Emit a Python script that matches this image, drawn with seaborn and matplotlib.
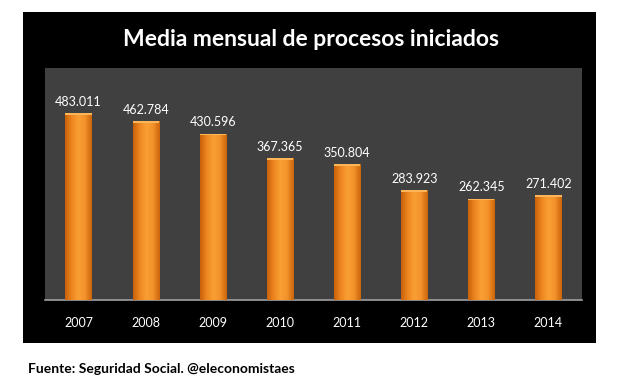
import matplotlib
matplotlib.use("Agg")
import matplotlib.pyplot as plt
import seaborn as sns
import numpy as np
import pandas as pd
from matplotlib.patches import Rectangle
from matplotlib.colors import LinearSegmentedColormap

years = ["2007", "2008", "2009", "2010", "2011", "2012", "2013", "2014"]
values = [483011, 462784, 430596, 367365, 350804, 283923, 262345, 271402]
labels = ["483.011", "462.784", "430.596", "367.365", "350.804", "283.923", "262.345", "271.402"]

sns.set_theme(style="white")
plt.rcParams['font.family'] = ['Lato', 'DejaVu Sans']

fig = plt.figure(figsize=(6.30, 3.89), dpi=100)
fig.patch.set_facecolor("white")
# black panel
fig.add_artist(Rectangle((23/630, 1-343/389), (596-23)/630, (343-12)/389,
                         transform=fig.transFigure, facecolor="black", edgecolor="none", zorder=0))

ax = fig.add_axes([45/630, 1-300/389, (582-45)/630, (300-68)/389])
ax.set_facecolor("#404040")
df = pd.DataFrame({"year": years, "value": values})
sns.barplot(data=df, x="year", y="value", color="#F39125", width=0.39, ax=ax,
            saturation=1, linewidth=0, edgecolor="none")
ax.set_ylim(0, 600000)
ax.set_xlim(-0.5, 7.5)

cmap = LinearSegmentedColormap.from_list("bar", ["#C9620A", "#EE8620", "#F9A035", "#F3922A", "#CC650C"])
grad = np.linspace(0, 1, 64).reshape(1, -1)
for p in ax.patches:
    p.set_linewidth(0)
    x0, w, h = p.get_x(), p.get_width(), p.get_height()
    im = ax.imshow(grad, extent=[x0, x0 + w, 0, h], aspect="auto", cmap=cmap, zorder=3)
    im.set_clip_path(p)
    # lighter cap
    ax.add_patch(Rectangle((x0, h - 5000), w, 5000, facecolor="#FDB55A", edgecolor="none", zorder=4))
ax.set_xlim(-0.5, 7.5)
ax.set_ylim(0, 600000)

for i, (v, lab) in enumerate(zip(values, labels)):
    ax.text(i, v + 14000, lab, ha="center", va="bottom", color="white", fontsize=9)

for s in ["top", "right", "left"]:
    ax.spines[s].set_visible(False)
ax.spines["bottom"].set_color("#A0A0A0")
ax.spines["bottom"].set_linewidth(1.2)
ax.set_yticks([])
ax.set_xlabel("")
ax.set_ylabel("")
ax.tick_params(axis="x", colors="white", labelsize=9, length=0, pad=12)
for t in ax.get_xticklabels():
    t.set_color("white")

fig.text(311/630, 1-40/389, "Media mensual de procesos iniciados", ha="center", va="center",
         color="white", fontsize=16.5, fontweight="bold")
fig.text(28/630, 1-369/389, "Fuente: Seguridad Social. @eleconomistaes", ha="left", va="center",
         color="black", fontsize=10, fontweight="bold")

fig.savefig("out.png", dpi=100)
